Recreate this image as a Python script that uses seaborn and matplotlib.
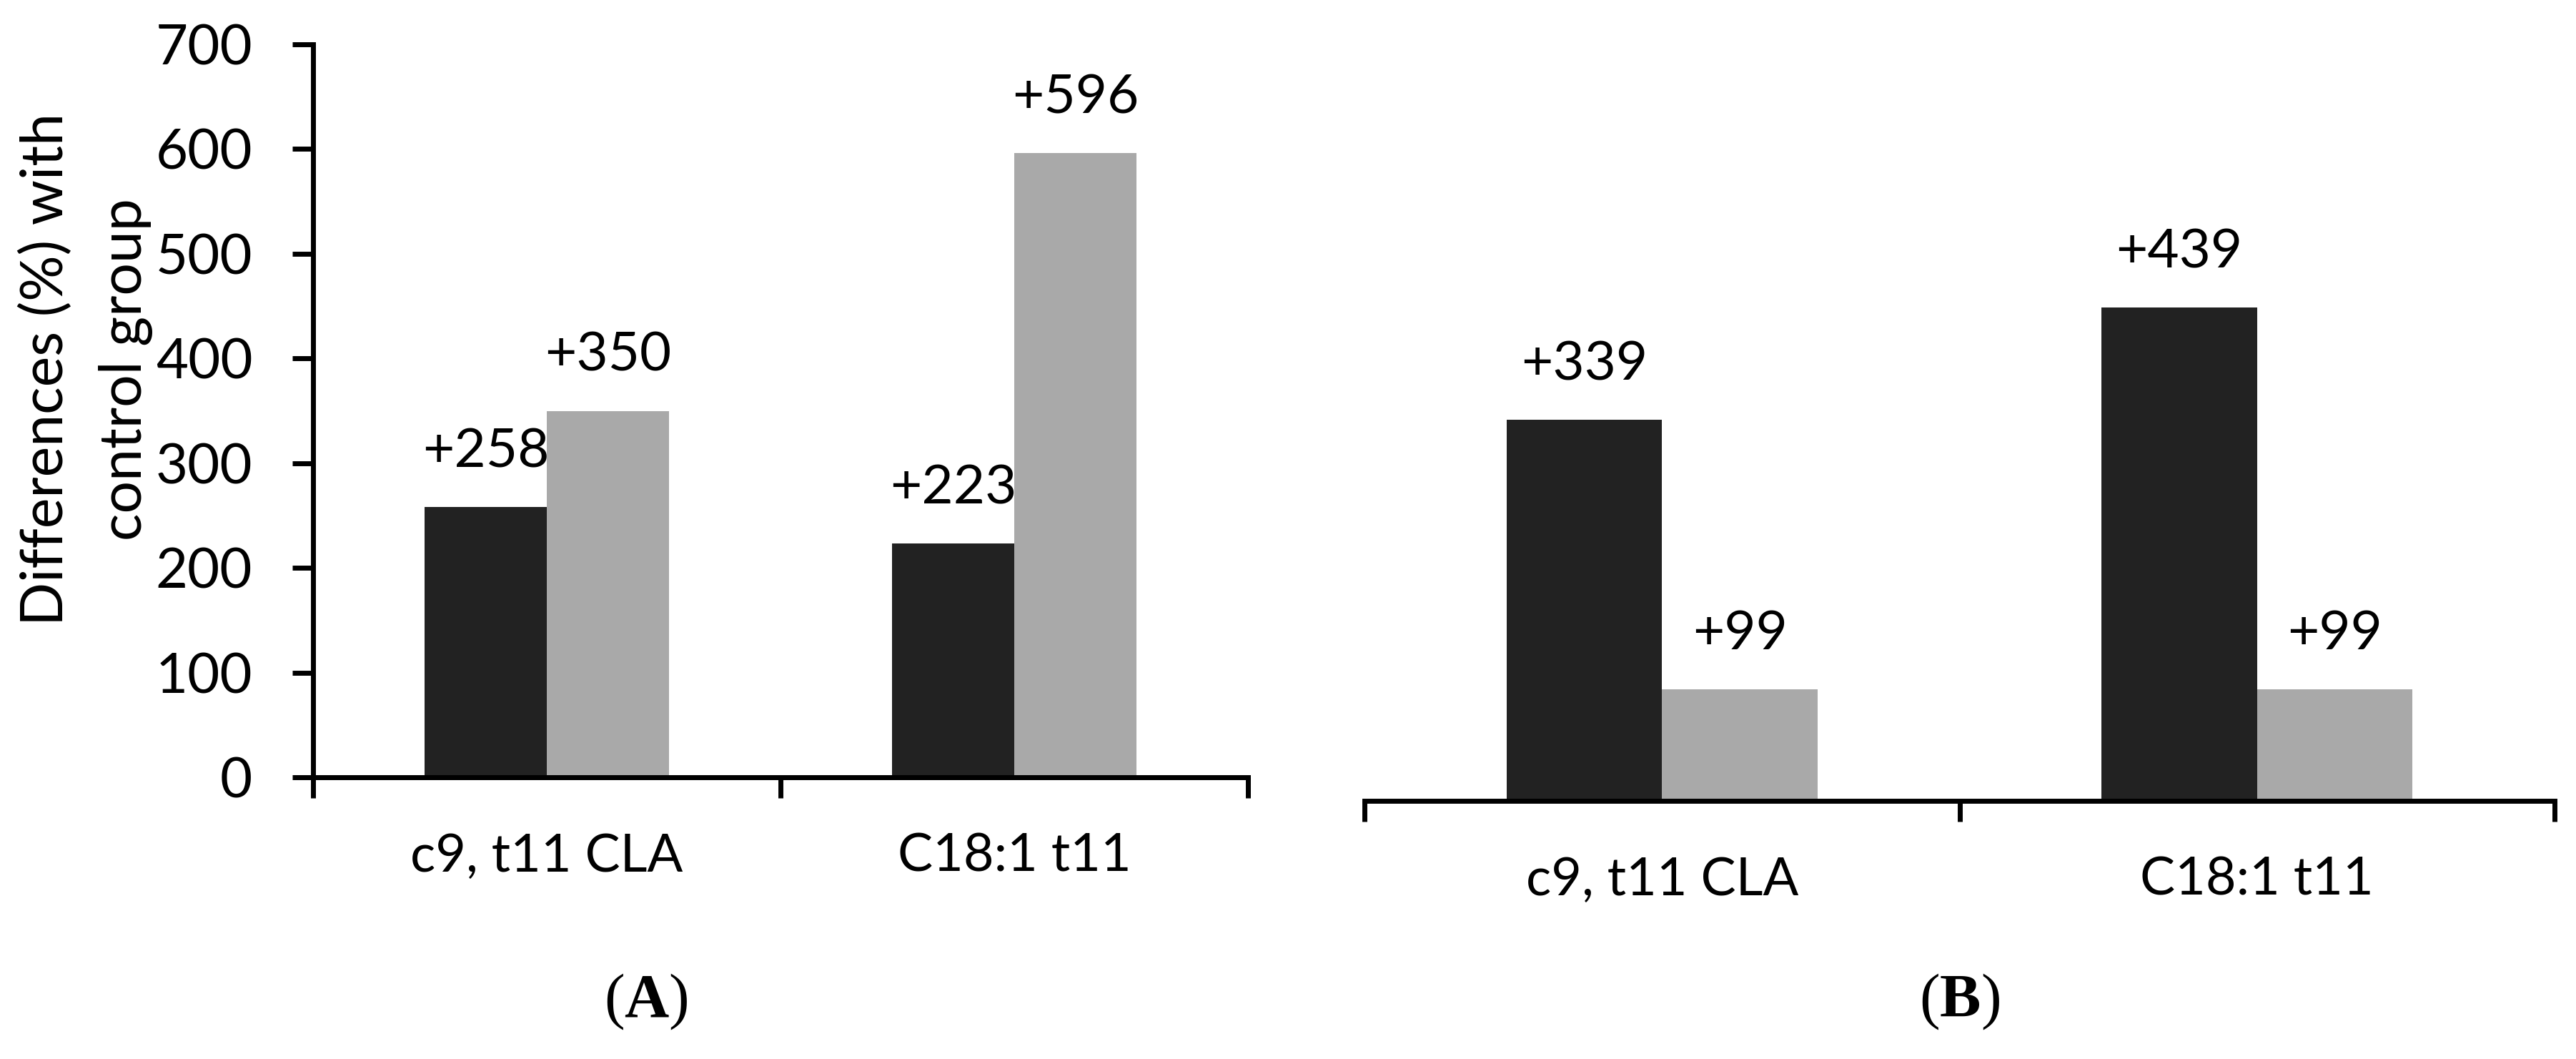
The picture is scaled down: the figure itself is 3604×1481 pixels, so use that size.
import matplotlib
matplotlib.use("Agg")
import matplotlib.pyplot as plt
import seaborn as sns
import pandas as pd
from matplotlib.ticker import FixedLocator, NullFormatter

# ---- data ----
categories = ["c9, t11 CLA", "C18:1 t11"]
groups = ["Group 1", "Group 2"]
panel_a_g1 = [258, 223]
panel_a_g2 = [350, 596]
panel_b_g1 = [339, 439]
panel_b_g2 = [99, 99]
yticks_a = [0, 100, 200, 300, 400, 500, 600, 700]
panel_letters = ["A", "B"]

colors = ["#222222", "#a9a9a9"]

sns.set_theme(style="white")
plt.rcParams["font.family"] = ["Lato", "DejaVu Sans"]
plt.rcParams["mathtext.fontset"] = "custom"
plt.rcParams["mathtext.rm"] = "Liberation Serif"
plt.rcParams["mathtext.bf"] = "Liberation Serif:bold"

W, H = 3605, 1481
fig = plt.figure(figsize=(W / 100, H / 100), dpi=100)
fig.patch.set_facecolor("white")

FS = 53
FS_ANN = 55
FS_Y = 56
LW = 5
TL = 21


def make_df(g1, g2):
    return pd.DataFrame({
        "cat": categories * 2,
        "grp": [groups[0]] * len(categories) + [groups[1]] * len(categories),
        "val": list(g1) + list(g2),
    })


def draw_panel(ax, g1, g2, show_y):
    df = make_df(g1, g2)
    sns.barplot(data=df, x="cat", y="val", hue="grp", order=categories,
                hue_order=groups, palette=colors, saturation=1, width=0.523,
                ax=ax, legend=False, errorbar=None, linewidth=0)
    ax.set_xlim(-0.5, len(categories) - 0.5)
    ax.set_ylim(0, 700)
    ax.set_xlabel("")
    ax.set_ylabel("")
    for cont, vals in zip(ax.containers, [g1, g2]):
        ax.bar_label(cont, labels=[f"+{v}" for v in vals], padding=31,
                     fontsize=FS_ANN, color="black")
    # category boundary ticks (major) + labels (minor)
    ax.xaxis.set_major_locator(FixedLocator([-0.5 + i for i in range(len(categories) + 1)]))
    ax.xaxis.set_major_formatter(NullFormatter())
    ax.xaxis.set_minor_locator(FixedLocator(list(range(len(categories)))))
    ax.set_xticklabels(categories, minor=True)
    ax.tick_params(axis="x", which="major", bottom=True, length=TL, width=LW,
                   direction="out", color="black")
    ax.tick_params(axis="x", which="minor", bottom=True, length=0, pad=56,
                   labelsize=FS, labelcolor="black")
    for s in ["top", "right"]:
        ax.spines[s].set_visible(False)
    ax.spines["bottom"].set_linewidth(LW)
    ax.spines["bottom"].set_color("black")
    ax.spines["bottom"].set_capstyle("projecting")
    if show_y:
        ax.spines["left"].set_linewidth(LW)
        ax.spines["left"].set_color("black")
        ax.set_yticks(yticks_a)
        ax.tick_params(axis="y", left=True, length=TL, width=LW, pad=40,
                       labelsize=FS_Y, labelcolor="black", color="black")
    else:
        ax.spines["left"].set_visible(False)
        ax.set_yticks([])
    ax.set_facecolor("white")


axA = fig.add_axes([438 / W, 1 - 1087 / H, (1746 - 438) / W, (1087 - 62) / H])
draw_panel(axA, panel_a_g1, panel_a_g2, True)

axB = fig.add_axes([1909 / W, 1 - 1120 / H, (3574 - 1909) / W, 1100 / H])
draw_panel(axB, panel_b_g1, panel_b_g2, False)

fig.text(120 / W, 1 - 517 / H, "Differences (%) with\ncontrol group",
         rotation=90, ha="center", va="center", multialignment="center",
         fontsize=58, linespacing=1.6, color="black")

for letter, xc in zip(panel_letters, [904, 2742]):
    fig.text(xc / W, 1 - 1401 / H, r"$(\mathbf{" + letter + r"})$",
             ha="center", va="center", fontsize=62, color="black")

fig.savefig("out.png", dpi=100, facecolor="white")
